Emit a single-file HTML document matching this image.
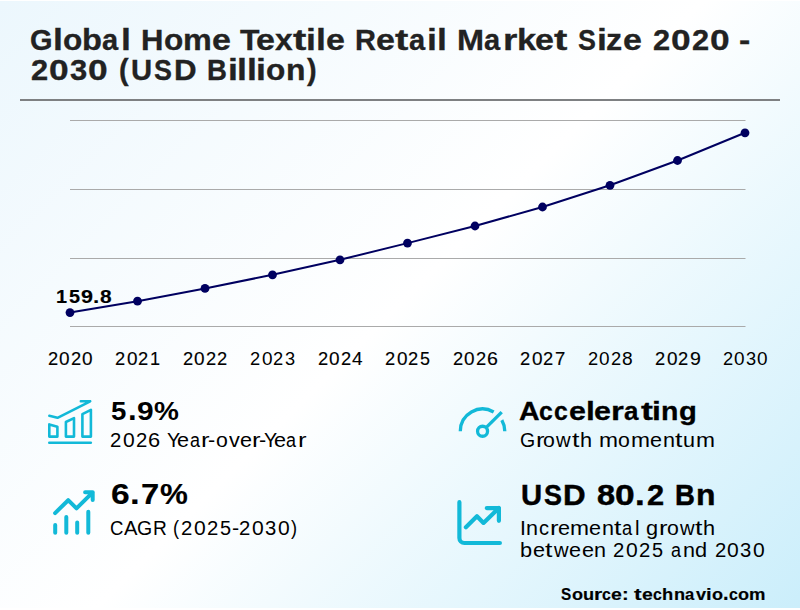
<!DOCTYPE html>
<html><head><meta charset="utf-8"><title>Global Home Textile Retail Market Size 2020 - 2030</title>
<style>
html,body{margin:0;padding:0;}
body{width:800px;height:610px;overflow:hidden;background:#fff;position:relative;font-family:"Liberation Sans", sans-serif;color:#000;}
.bg{position:absolute;left:0;top:1px;width:800px;height:607px;background:linear-gradient(135deg, #ecf7fd 0%, #ffffff 50%, #cbeefb 100%);}
.ln{position:absolute;white-space:nowrap;line-height:1;font-weight:400;}
.ln span{display:inline-block;white-space:pre;transform-origin:var(--o);}
.b{font-weight:700;}
svg{position:absolute;left:0;top:0;}
</style></head>
<body>
<div class="bg"></div>
<svg width="800" height="610" viewBox="0 0 800 610">
<rect x="20" y="99" width="760" height="2" fill="#7e8082"/>
<g stroke="#aaaaaa" stroke-width="1" fill="none">
<path d="M70 120.5H745.5M70 189.5H745.5M70 258.5H745.5M70 326.5H745.5"/>
</g>
<polyline fill="none" stroke="#000060" stroke-width="2" stroke-linejoin="round" points="70,312.6 137.5,301.2 205,288.4 272.5,274.8 340,259.8 407.5,243.1 475,226 542.5,207 610,185.3 677.5,160.5 745,132.8"/>
<g fill="#000060">
<circle cx="70" cy="312.6" r="4.4"/><circle cx="137.5" cy="301.2" r="4.4"/><circle cx="205" cy="288.4" r="4.4"/><circle cx="272.5" cy="274.8" r="4.4"/><circle cx="340" cy="259.8" r="4.4"/><circle cx="407.5" cy="243.1" r="4.4"/><circle cx="475" cy="226" r="4.4"/><circle cx="542.5" cy="207" r="4.4"/><circle cx="610" cy="185.3" r="4.4"/><circle cx="677.5" cy="160.5" r="4.4"/><circle cx="745" cy="132.8" r="4.4"/>
</g>
<g fill="none" stroke="#12b9d8" stroke-linecap="round" stroke-linejoin="round">
<g stroke-width="2.6">
<path stroke-width="2.5" d="M49.3 415.7L57.5 417.8L90.2 401.3M80.8 401.3H90.2"/>
<path d="M49.3 424.4L57.4 426.8V436.6H49.3Z"/>
<path d="M65.9 422L74 418.1V436.6H65.9Z"/>
<path d="M82.4 414.2L90.9 409.8V436.6H82.4Z"/>
<path d="M49.3 442.8H90.8"/>
</g>
<g stroke-width="4">
<path d="M55.1 513.1L68.2 500.2L76.5 508.4L92.7 492.3M85.1 492.3H92.7V499.9"/>
<path d="M55.2 525V532.7M66.3 517V532.7M77.2 522.6V532.7M88.3 511.7V532.7"/>
</g>
<g stroke-width="3.3" stroke-linecap="butt">
<path d="M460.3 431.25A22.25 22.25 0 0 1 493.675 411.98"/>
<path d="M501.82 420.125A22.25 22.25 0 0 1 504.8 431.25"/>
<circle cx="482.55" cy="431.25" r="5"/>
<path d="M486.1 427.7L501.7 412.1"/>
</g>
<g stroke-width="4.2">
<path d="M459.4 502.2V538A5 5 0 0 0 464.4 543H499.9"/>
<path d="M465.9 527.3L476.95 516.3L483.5 522.9L498.9 508M486.8 508.1H498.9V520.8"/>
</g>
</g>
</svg>

<div class="ln b" style="left:30.203125px;top:25.5px;font-size:29.12px;color:#222;-webkit-text-stroke:0.3px #222;--o:0 24px;"><span style="width:22.625px;transform:scaleX(0.9935)">G</span><span style="width:9.71875px;transform:scaleX(1.2250)">l</span><span style="width:19.46875px;transform:scaleX(1.0849)">o</span><span style="width:20.203125px;transform:scaleX(1.1199)">b</span><span style="width:18.390625px;transform:scaleX(0.9976)">a</span><span style="width:19.96875px;transform:scaleX(1.2250)">l </span><span style="width:22.921875px;transform:scaleX(1.0686)">H</span><span style="width:19.453125px;transform:scaleX(1.0849)">o</span><span style="width:28.859375px;transform:scaleX(1.1114)">m</span><span style="width:28.640625px;transform:scaleX(1.1686)">e </span><span style="width:15.484375px;transform:scaleX(1.0971)">T</span><span style="width:19.3125px;transform:scaleX(1.1686)">e</span><span style="width:17.734375px;transform:scaleX(1.0906)">x</span><span style="width:13.375px;transform:scaleX(1.3769)">t</span><span style="width:9.59375px;transform:scaleX(1.2250)">i</span><span style="width:9.609375px;transform:scaleX(1.2250)">l</span><span style="width:29.484375px;transform:scaleX(1.1686)">e </span><span style="width:20.8125px;transform:scaleX(0.9970)">R</span><span style="width:19px;transform:scaleX(1.1686)">e</span><span style="width:13.859375px;transform:scaleX(1.3769)">t</span><span style="width:18.390625px;transform:scaleX(0.9976)">a</span><span style="width:9.609375px;transform:scaleX(1.2250)">i</span><span style="width:19.875px;transform:scaleX(1.2250)">l </span><span style="width:27.828125px;transform:scaleX(1.1153)">M</span><span style="width:18.453125px;transform:scaleX(0.9976)">a</span><span style="width:13.828125px;transform:scaleX(1.2678)">r</span><span style="width:17.8125px;transform:scaleX(1.1841)">k</span><span style="width:18.984375px;transform:scaleX(1.1686)">e</span><span style="width:24.5px;transform:scaleX(1.3769)">t </span><span style="width:18.78125px;transform:scaleX(0.9231)">S</span><span style="width:9.703125px;transform:scaleX(1.2250)">i</span><span style="width:16.203125px;transform:scaleX(1.1100)">z</span><span style="width:30.015625px;transform:scaleX(1.1686)">e </span><span style="width:18.28125px;transform:scaleX(1.0581)">2</span><span style="width:20.671875px;transform:scaleX(1.2133)">0</span><span style="width:18.28125px;transform:scaleX(1.0581)">2</span><span style="width:29.5px;transform:scaleX(1.2133)">0 </span><span style="width:23.671875px;transform:scaleX(1.1612)">-</span></div>
<div class="ln b" style="left:31.140625px;top:57.5px;font-size:26.88px;color:#222;-webkit-text-stroke:0.3px #222;--o:0 22px;"><span style="width:18.265625px;transform:scale(1.1463,1.1072)">2</span><span style="width:20.703125px;transform:scale(1.3144,1.1072)">0</span><span style="width:18.265625px;transform:scale(1.1512,1.1072)">3</span><span style="width:30.265625px;transform:scale(1.3144,1.1072)">0 </span><span style="width:12.640625px;transform:scale(1.0741,1.0908)">(</span><span style="width:23.15625px;transform:scale(1.0891,1.1038)">U</span><span style="width:19.40625px;transform:scale(1.0001,1.1072)">S</span><span style="width:33.25px;transform:scale(1.1652,1.1038)">D </span><span style="width:20.46875px;transform:scale(1.0250,1.1038)">B</span><span style="width:9.59375px;transform:scale(1.3271,1.0922)">i</span><span style="width:9.59375px;transform:scale(1.3271,1.0922)">l</span><span style="width:9.609375px;transform:scale(1.3271,1.0922)">l</span><span style="width:9.703125px;transform:scale(1.3271,1.0922)">i</span><span style="width:19.515625px;transform:scale(1.1753,1.0842)">o</span><span style="width:21.90625px;transform:scale(1.1860,1.0832)">n</span><span style="width:20.203125px;transform:scale(1.0741,1.0908)">)</span></div>
<div class="ln b" style="left:56.078125px;top:287.5px;font-size:18.36px;-webkit-text-stroke:0.15px #000;--o:0 15px;"><span style="width:12.515625px;transform:scaleX(1.0833)">1</span><span style="width:11.9375px;transform:scaleX(1.0814)">5</span><span style="width:12.640625px;transform:scaleX(1.1741)">9</span><span style="width:6.96875px;transform:scaleX(1.2212)">.</span><span style="width:14.625px;transform:scaleX(1.1375)">8</span></div>
<div class="ln b" style="left:111.078125px;top:399.5px;font-size:24px;--o:0 20px;"><span style="width:16.75px;transform:scale(1.1490,1.1038)">5</span><span style="width:9.3125px;transform:scale(1.2976,1.3000)">.</span><span style="width:17.25px;transform:scale(1.2475,1.1058)">9</span><span style="width:19.59375px;transform:scale(1.1661,1.1111)">%</span></div>
<div class="ln" style="left:110.4375px;top:429.5px;font-size:20px;--o:0 17px;"><span style="width:12.78125px;transform:scaleX(1.0161)">2</span><span style="width:12.65625px;transform:scaleX(1.0541)">0</span><span style="width:12.578125px;transform:scaleX(1.0161)">2</span><span style="width:18.328125px;transform:scaleX(1.0910)">6 </span><span style="width:10.21875px;transform:scaleX(0.9867)">Y</span><span style="width:12.546875px;transform:scaleX(1.0801)">e</span><span style="width:11.9375px;transform:scaleX(0.8992)">a</span><span style="width:6.84375px;transform:scaleX(1.2812)">r</span><span style="width:7.78125px;transform:scaleX(1.0780)">-</span><span style="width:12.546875px;transform:scaleX(1.0631)">o</span><span style="width:11.5px;transform:scaleX(1.0792)">v</span><span style="width:12.234375px;transform:scaleX(1.0801)">e</span><span style="width:6.84375px;transform:scaleX(1.2812)">r</span><span style="width:4.359375px;transform:scaleX(1.0780)">-</span><span style="width:10.21875px;transform:scaleX(0.9867)">Y</span><span style="width:12.5625px;transform:scaleX(1.0801)">e</span><span style="width:11.921875px;transform:scaleX(0.8992)">a</span><span style="width:17.9375px;transform:scaleX(1.2812)">r</span></div>
<div class="ln b" style="left:110.5px;top:480px;font-size:29.12px;-webkit-text-stroke:0.15px #000;--o:0 24px;"><span style="width:19.453125px;transform:scaleX(1.1538)">6</span><span style="width:10.625px;transform:scaleX(1.1978)">.</span><span style="width:19.140625px;transform:scaleX(1.1256)">7</span><span style="width:21.9375px;transform:scaleX(1.0764)">%</span></div>
<div class="ln" style="left:110.1875px;top:517.5px;font-size:20px;--o:0 17px;"><span style="width:13.875px;transform:scaleX(0.9283)">C</span><span style="width:13.359375px;transform:scaleX(1.0074)">A</span><span style="width:15.75px;transform:scaleX(0.9753)">G</span><span style="width:20.296875px;transform:scaleX(0.9564)">R </span><span style="width:7.8125px;transform:scaleX(0.9089)">(</span><span style="width:12.78125px;transform:scaleX(1.0161)">2</span><span style="width:12.671875px;transform:scaleX(1.0541)">0</span><span style="width:13.03125px;transform:scaleX(1.0161)">2</span><span style="width:11.984375px;transform:scaleX(0.9949)">5</span><span style="width:7.640625px;transform:scaleX(1.0780)">-</span><span style="width:12.796875px;transform:scaleX(1.0161)">2</span><span style="width:12.96875px;transform:scaleX(1.0541)">0</span><span style="width:12.46875px;transform:scaleX(1.0124)">3</span><span style="width:13.5625px;transform:scaleX(1.0541)">0</span><span style="width:12.71875px;transform:scaleX(0.9089)">)</span></div>
<div class="ln b" style="left:519.40625px;top:398.6px;font-size:25.5px;-webkit-text-stroke:0.3px #000;--o:0 21px;"><span style="width:20.046875px;transform:scaleX(1.1167)">A</span><span style="width:14.8125px;transform:scaleX(0.9706)">c</span><span style="width:14.609375px;transform:scaleX(0.9706)">c</span><span style="width:16.9375px;transform:scaleX(1.1915)">e</span><span style="width:8.578125px;transform:scaleX(1.2490)">l</span><span style="width:16.984375px;transform:scaleX(1.1915)">e</span><span style="width:12.71875px;transform:scaleX(1.2927)">r</span><span style="width:16.453125px;transform:scaleX(1.0172)">a</span><span style="width:11.9375px;transform:scaleX(1.4039)">t</span><span style="width:8.90625px;transform:scaleX(1.2490)">i</span><span style="width:17.515625px;transform:scaleX(1.1162)">n</span><span style="width:20.421875px;transform:scaleX(1.1441)">g</span></div>
<div class="ln" style="left:520.140625px;top:429.6px;font-size:20px;--o:0 17px;"><span style="width:15.453125px;transform:scaleX(0.9753)">G</span><span style="width:7.890625px;transform:scaleX(1.2812)">r</span><span style="width:12.90625px;transform:scaleX(1.0631)">o</span><span style="width:15.609375px;transform:scaleX(1.0108)">w</span><span style="width:8.015625px;transform:scaleX(1.3365)">t</span><span style="width:19.03125px;transform:scaleX(1.0856)">h </span><span style="width:19.375px;transform:scaleX(1.1394)">m</span><span style="width:12.34375px;transform:scaleX(1.0631)">o</span><span style="width:19.359375px;transform:scaleX(1.1394)">m</span><span style="width:12.515625px;transform:scaleX(1.0801)">e</span><span style="width:12.40625px;transform:scaleX(1.0782)">n</span><span style="width:8.015625px;transform:scaleX(1.3365)">t</span><span style="width:12.671875px;transform:scaleX(1.0782)">u</span><span style="width:15.953125px;transform:scaleX(1.1394)">m</span></div>
<div class="ln b" style="left:520.8125px;top:480.5px;font-size:29.12px;-webkit-text-stroke:0.45px #000;--o:0 24px;"><span style="width:23.15625px;transform:scaleX(1.0053)">U</span><span style="width:19.390625px;transform:scaleX(0.9231)">S</span><span style="width:33.203125px;transform:scaleX(1.0756)">D </span><span style="width:18.75px;transform:scaleX(1.1156)">8</span><span style="width:20.015625px;transform:scaleX(1.2133)">0</span><span style="width:11.296875px;transform:scaleX(1.1978)">.</span><span style="width:28.828125px;transform:scaleX(1.0581)">2 </span><span style="width:20.859375px;transform:scaleX(0.9461)">B</span><span style="width:22.3125px;transform:scaleX(1.0947)">n</span></div>
<div class="ln" style="left:520.015625px;top:517.5px;font-size:20px;--o:0 17px;"><span style="width:6.265625px;transform:scaleX(1.0576)">I</span><span style="width:12.53125px;transform:scaleX(1.0782)">n</span><span style="width:10.859375px;transform:scaleX(1.0034)">c</span><span style="width:7.859375px;transform:scaleX(1.2812)">r</span><span style="width:12.421875px;transform:scaleX(1.0801)">e</span><span style="width:19.375px;transform:scaleX(1.1394)">m</span><span style="width:12.5px;transform:scaleX(1.0801)">e</span><span style="width:12.40625px;transform:scaleX(1.0782)">n</span><span style="width:8.0625px;transform:scaleX(1.3365)">t</span><span style="width:12.421875px;transform:scaleX(0.9143)">a</span><span style="width:11.59375px;transform:scaleX(1.0222)">l </span><span style="width:12.625px;transform:scaleX(1.0869)">g</span><span style="width:7.875px;transform:scaleX(1.2812)">r</span><span style="width:12.90625px;transform:scaleX(1.0631)">o</span><span style="width:15.609375px;transform:scaleX(1.0108)">w</span><span style="width:8.03125px;transform:scaleX(1.3365)">t</span><span style="width:15.203125px;transform:scaleX(1.0856)">h</span></div>
<div class="ln" style="left:520.40625px;top:539.5px;font-size:20px;--o:0 17px;"><span style="width:12.46875px;transform:scaleX(1.0879)">b</span><span style="width:12.25px;transform:scaleX(1.0801)">e</span><span style="width:8.578125px;transform:scaleX(1.3365)">t</span><span style="width:15.671875px;transform:scaleX(1.0108)">w</span><span style="width:12.3125px;transform:scaleX(1.0801)">e</span><span style="width:12.5px;transform:scaleX(1.0801)">e</span><span style="width:19.078125px;transform:scaleX(1.0782)">n </span><span style="width:12.796875px;transform:scaleX(1.0161)">2</span><span style="width:12.65625px;transform:scaleX(1.0541)">0</span><span style="width:13.046875px;transform:scaleX(1.0161)">2</span><span style="width:18.765625px;transform:scaleX(0.9949)">5 </span><span style="width:12.203125px;transform:scaleX(0.8992)">a</span><span style="width:12.46875px;transform:scaleX(1.0782)">n</span><span style="width:19.3125px;transform:scaleX(1.0869)">d </span><span style="width:12.78125px;transform:scaleX(1.0161)">2</span><span style="width:12.984375px;transform:scaleX(1.0541)">0</span><span style="width:12.46875px;transform:scaleX(1.0124)">3</span><span style="width:14.765625px;transform:scaleX(1.0541)">0</span></div>
<div class="ln b" style="left:560.703125px;top:586.5px;font-size:15.36px;-webkit-text-stroke:0.15px #000;--o:0 13px;"><span style="width:10.796875px;transform:scale(1.0001,1.1072)">S</span><span style="width:11.140625px;transform:scale(1.1753,1.0842)">o</span><span style="width:11.21875px;transform:scale(1.1860,1.0783)">u</span><span style="width:8px;transform:scale(1.3735,1.0832)">r</span><span style="width:9.34375px;transform:scale(1.0312,1.0842)">c</span><span style="width:10.78125px;transform:scale(1.2660,1.0842)">e</span><span style="width:12.046875px;transform:scale(1.3057,1.1283)">: </span><span style="width:7.640625px;transform:scale(1.4916,1.1212)">t</span><span style="width:10.984375px;transform:scale(1.2660,1.0842)">e</span><span style="width:9.484375px;transform:scale(1.0312,1.0842)">c</span><span style="width:11.46875px;transform:scale(1.1956,1.0922)">h</span><span style="width:11.453125px;transform:scale(1.1860,1.0832)">n</span><span style="width:10.765625px;transform:scale(1.0808,1.0842)">a</span><span style="width:10.1875px;transform:scale(1.1828,1.0783)">v</span><span style="width:5.546875px;transform:scale(1.3271,1.0922)">i</span><span style="width:11.28125px;transform:scale(1.1753,1.0842)">o</span><span style="width:5.859375px;transform:scale(1.2976,1.3000)">.</span><span style="width:9.40625px;transform:scale(1.0312,1.0842)">c</span><span style="width:11.125px;transform:scale(1.1753,1.0842)">o</span><span style="width:12.953125px;transform:scale(1.2040,1.0832)">m</span></div>
<div class="ln" style="left:47.9375px;top:347.5px;font-size:20.16px;-webkit-text-stroke:0.15px #000;--o:0 17px;"><span style="width:11.484375px;transform:scale(0.9072,0.9491)">2</span><span style="width:11.40625px;transform:scale(0.9412,0.9491)">0</span><span style="width:11.5px;transform:scale(0.9072,0.9491)">2</span><span style="width:13.28125px;transform:scale(0.9412,0.9491)">0</span></div>
<div class="ln" style="left:115.4375px;top:348.5px;font-size:19.8px;-webkit-text-stroke:0.15px #000;--o:0 16px;"><span style="width:11.484375px;transform:scale(0.9237,0.9663)">2</span><span style="width:11.40625px;transform:scale(0.9583,0.9663)">0</span><span style="width:11.640625px;transform:scale(0.9237,0.9663)">2</span><span style="width:12.6875px;transform:scale(0.9153,0.9633)">1</span></div>
<div class="ln" style="left:182.9375px;top:347.5px;font-size:20.16px;-webkit-text-stroke:0.15px #000;--o:0 17px;"><span style="width:11.484375px;transform:scale(0.9072,0.9491)">2</span><span style="width:11.40625px;transform:scale(0.9412,0.9491)">0</span><span style="width:11.453125px;transform:scale(0.9072,0.9491)">2</span><span style="width:12.796875px;transform:scale(0.9072,0.9491)">2</span></div>
<div class="ln" style="left:250.4375px;top:348.5px;font-size:19.08px;--o:0 16px;"><span style="width:11.484375px;transform:scaleX(0.9586)">2</span><span style="width:11.40625px;transform:scaleX(0.9945)">0</span><span style="width:11.71875px;transform:scaleX(0.9586)">2</span><span style="width:12.75px;transform:scaleX(0.9551)">3</span></div>
<div class="ln" style="left:317.9375px;top:347.5px;font-size:20.16px;-webkit-text-stroke:0.15px #000;--o:0 17px;"><span style="width:11.484375px;transform:scale(0.9072,0.9491)">2</span><span style="width:11.40625px;transform:scale(0.9412,0.9491)">0</span><span style="width:11.484375px;transform:scale(0.9072,0.9491)">2</span><span style="width:13.28125px;transform:scale(0.9413,0.9461)">4</span></div>
<div class="ln" style="left:385.4375px;top:348.5px;font-size:19.8px;-webkit-text-stroke:0.15px #000;--o:0 16px;"><span style="width:11.484375px;transform:scale(0.9237,0.9663)">2</span><span style="width:11.40625px;transform:scale(0.9583,0.9663)">0</span><span style="width:11.71875px;transform:scale(0.9237,0.9663)">2</span><span style="width:12.53125px;transform:scale(0.9044,0.9633)">5</span></div>
<div class="ln" style="left:452.9375px;top:348.5px;font-size:19.8px;-webkit-text-stroke:0.15px #000;--o:0 16px;"><span style="width:11.484375px;transform:scale(0.9237,0.9663)">2</span><span style="width:11.40625px;transform:scale(0.9583,0.9663)">0</span><span style="width:11.3125px;transform:scale(0.9237,0.9663)">2</span><span style="width:13.75px;transform:scale(0.9918,0.9663)">6</span></div>
<div class="ln" style="left:520.4375px;top:348.5px;font-size:19.8px;-webkit-text-stroke:0.15px #000;--o:0 16px;"><span style="width:11.484375px;transform:scale(0.9237,0.9663)">2</span><span style="width:11.40625px;transform:scale(0.9583,0.9663)">0</span><span style="width:11.578125px;transform:scale(0.9237,0.9663)">2</span><span style="width:13px;transform:scale(0.9374,0.9633)">7</span></div>
<div class="ln" style="left:587.9375px;top:349.5px;font-size:18px;--o:0 15px;"><span style="width:11.484375px;transform:scale(1.0161,1.0629)">2</span><span style="width:11.40625px;transform:scale(1.0541,1.0629)">0</span><span style="width:11.4375px;transform:scale(1.0161,1.0629)">2</span><span style="width:13.421875px;transform:scale(1.0656,1.0629)">8</span></div>
<div class="ln" style="left:655.4375px;top:348.5px;font-size:19.8px;-webkit-text-stroke:0.15px #000;--o:0 16px;"><span style="width:11.484375px;transform:scale(0.9237,0.9663)">2</span><span style="width:11.40625px;transform:scale(0.9583,0.9663)">0</span><span style="width:11.265625px;transform:scale(0.9237,0.9663)">2</span><span style="width:13.71875px;transform:scale(0.9898,0.9663)">9</span></div>
<div class="ln" style="left:722.9375px;top:348.5px;font-size:19.44px;--o:0 16px;"><span style="width:11.484375px;transform:scale(0.9408,0.9842)">2</span><span style="width:11.671875px;transform:scale(0.9761,0.9842)">0</span><span style="width:11.234375px;transform:scale(0.9374,0.9842)">3</span><span style="width:13.28125px;transform:scale(0.9761,0.9842)">0</span></div>
</body></html>
